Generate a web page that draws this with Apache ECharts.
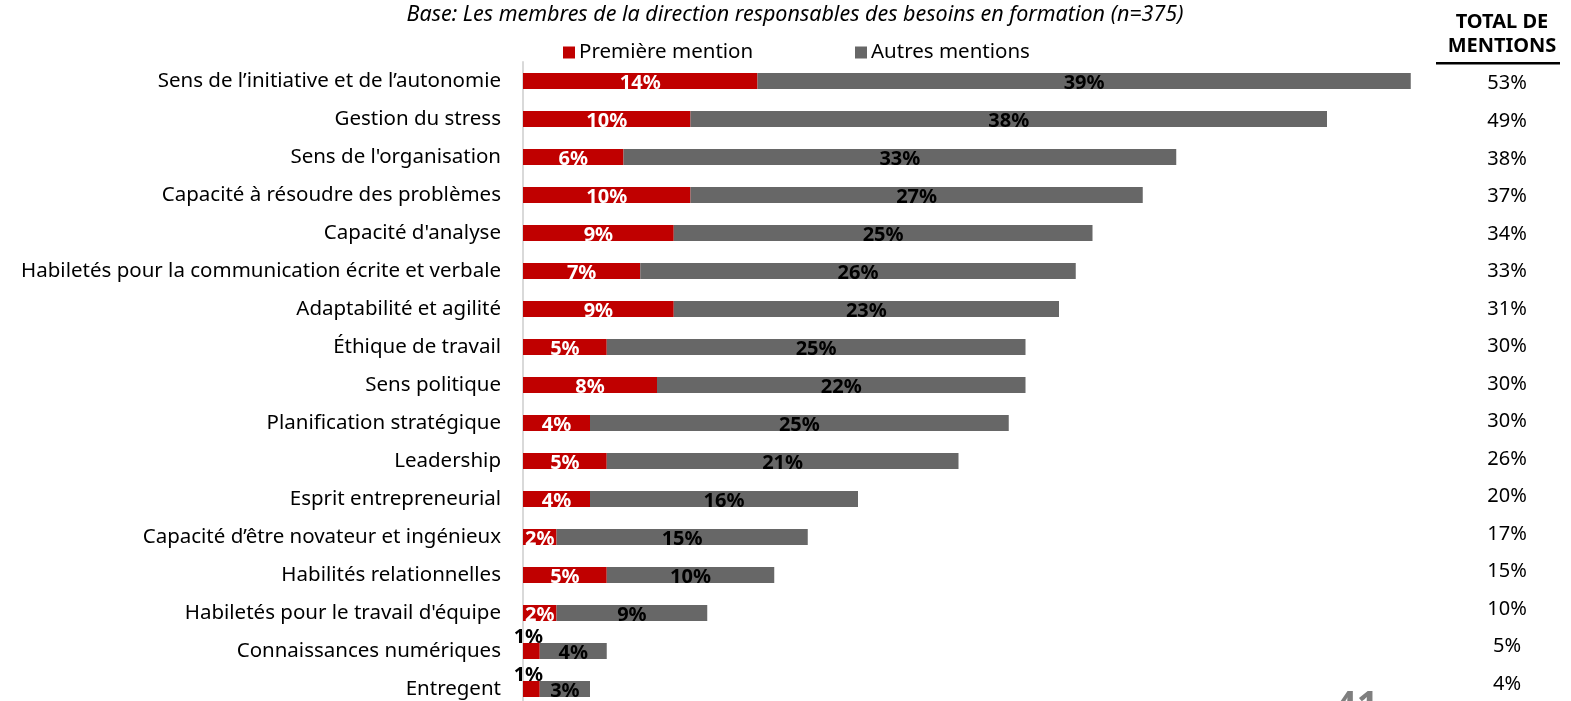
<!DOCTYPE html>
<html>
<head>
<meta charset="utf-8">
<script src="https://cdn.jsdelivr.net/npm/echarts@6/dist/echarts.min.js"></script>
<style>
  html, body { margin: 0; padding: 0; background: #fff; }
  #chart { width: 1571px; height: 701px; }
</style>
</head>
<body>
<div id="chart"></div>
<script>
// Skills named by managers responsible for training needs (share of mentions, %)
const categories = [
  "Sens de l’initiative et de l’autonomie",
  "Gestion du stress",
  "Sens de l'organisation",
  "Capacité à résoudre des problèmes",
  "Capacité d'analyse",
  "Habiletés pour la communication écrite et verbale",
  "Adaptabilité et agilité",
  "Éthique de travail",
  "Sens politique",
  "Planification stratégique",
  "Leadership",
  "Esprit entrepreneurial",
  "Capacité d’être novateur et ingénieux",
  "Habilités relationnelles",
  "Habiletés pour le travail d'équipe",
  "Connaissances numériques",
  "Entregent"
];
const firstMention = [14, 10, 6, 10, 9, 7, 9, 5, 8, 4, 5, 4, 2, 5, 2, 1, 1];
const otherMentions = [39, 38, 33, 27, 25, 26, 23, 25, 22, 25, 21, 16, 15, 10, 9, 4, 3];
const totalMentions = [53, 49, 38, 37, 34, 33, 31, 30, 30, 30, 26, 20, 17, 15, 10, 5, 4];

const FONT = "'Noto Sans', 'Open Sans', sans-serif";
const RED = "#C00000";
const GREY = "#676767";

// Small first-mention bars get their label above the bar in black
const firstData = firstMention.map(v => v <= 1
  ? { value: v, label: { position: "top", color: "#000", offset: [-3, 9] } }
  : v);

const chart = echarts.init(document.getElementById("chart"));
chart.setOption({
  animation: false,
  textStyle: { fontFamily: FONT },
  title: {
    text: "Base: Les membres de la direction responsables des besoins en formation (n=375)",
    left: 790, top: -1, textAlign: "center",
    textStyle: { fontFamily: FONT, fontSize: 21.5, fontStyle: "italic", fontWeight: "normal", color: "#000" }
  },
  legend: [
    { data: ["Première mention"], left: 558, top: 37, itemWidth: 12, itemHeight: 12, itemGap: 4,
      icon: "rect", textStyle: { fontFamily: FONT, fontSize: 20.5, color: "#000", padding: [0, 0, 0, -1] } },
    { data: ["Autres mentions"], left: 850, top: 37, itemWidth: 12, itemHeight: 12, itemGap: 4,
      icon: "rect", textStyle: { fontFamily: FONT, fontSize: 20.5, color: "#000", padding: [0, 0, 0, -1] } }
  ],
  grid: [
    { left: 523, top: 62, width: 1005, height: 646, outerBoundsMode: "none" },
    // totals column sits in its own band
    { left: 1450, top: 65, width: 106, height: 638, outerBoundsMode: "none" }
  ],
  xAxis: [
    { type: "value", min: 0, max: 60, show: false, gridIndex: 0 },
    { type: "value", min: 0, max: 1, show: false, gridIndex: 1 }
  ],
  yAxis: [
    {
      type: "category", data: categories, inverse: true, gridIndex: 0,
      axisLine: { show: true, lineStyle: { color: "#D9D9D9", width: 2 } },
      axisTick: { show: false },
      axisLabel: { fontFamily: FONT, fontSize: 20.5, color: "#000", margin: 22 }
    },
    {
      type: "category", data: totalMentions, inverse: true, gridIndex: 1,
      axisLine: { show: false }, axisTick: { show: false },
      axisLabel: { fontFamily: FONT, fontSize: 20, color: "#000", align: "center", margin: -57,
        formatter: v => v + "%" }
    }
  ],
  series: [
    {
      name: "Première mention", type: "bar", stack: "m", barWidth: 16,
      itemStyle: { color: RED }, data: firstData,
      label: { show: true, position: "inside", offset: [0, 2], formatter: "{c}%",
        fontFamily: FONT, fontSize: 20, fontWeight: "bold", color: "#fff" }
    },
    {
      name: "Autres mentions", type: "bar", stack: "m", barWidth: 16,
      itemStyle: { color: GREY }, data: otherMentions,
      label: { show: true, position: "inside", offset: [0, 2], formatter: "{c}%",
        fontFamily: FONT, fontSize: 20, fontWeight: "bold", color: "#000" }
    }
  ],
  graphic: [
    { type: "text", x: 1502, y: 22, style: { text: "TOTAL DE", align: "center", verticalAlign: "middle",
      font: "bold 20px " + FONT, fill: "#000" } },
    { type: "text", x: 1502, y: 46, style: { text: "MENTIONS", align: "center", verticalAlign: "middle",
      font: "bold 20px " + FONT, fill: "#000" } },
    { type: "rect", shape: { x: 1436, y: 62, width: 124, height: 2.5 }, style: { fill: "#000" } },
    { type: "text", x: 1335, y: 688, style: { text: "41", font: "bold 38px " + FONT, fill: "#7F7F7F" } }
  ]
});
</script>
</body>
</html>
